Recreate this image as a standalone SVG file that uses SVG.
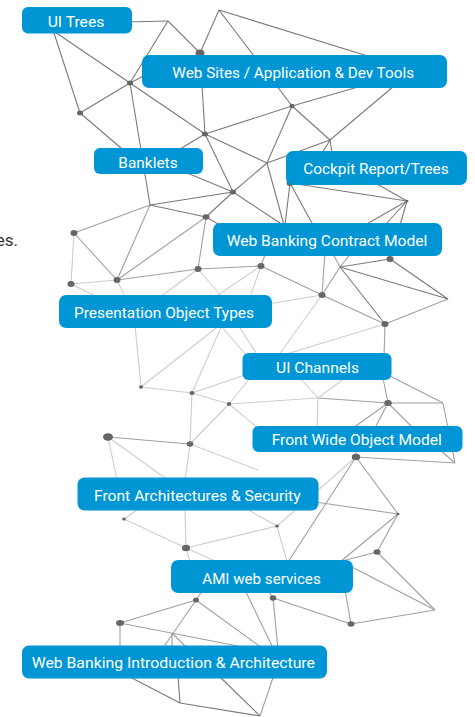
<svg xmlns="http://www.w3.org/2000/svg" width="475" height="717" viewBox="0 0 475 717">
<style>
.d{stroke:#7a7a7a;stroke-width:1.1;fill:none}
.m{stroke:#a0a0a0;stroke-width:1.1;fill:none}
.l{stroke:#cdcdcd;stroke-width:1.1;fill:none}
.dot{fill:#666}
.box{fill:#0096d6}
.lbl{fill:#fff;font-family:Roboto,"Liberation Sans",sans-serif;font-size:15px;text-anchor:middle}
</style>
<rect width="475" height="717" fill="#fff"/>
<text x="18" y="245.5" font-family="Roboto,'Liberation Sans',sans-serif" font-size="17" fill="#333" text-anchor="end">es.</text>
<g id="connectors">
<line class="d" x1="125" y1="22" x2="168" y2="21"/>
<line class="d" x1="168" y1="21" x2="200" y2="53"/>
<line class="d" x1="168" y1="21" x2="130" y2="83"/>
<line class="d" x1="219" y1="10" x2="200" y2="53"/>
<line class="d" x1="219" y1="10" x2="413" y2="70"/>
<line class="d" x1="219" y1="10" x2="292" y2="106"/>
<line class="d" x1="53" y1="30" x2="80" y2="113"/>
<line class="d" x1="52" y1="30" x2="205" y2="134"/>
<line class="d" x1="80" y1="113" x2="130" y2="83"/>
<line class="d" x1="80" y1="113" x2="135" y2="160"/>
<line class="d" x1="130" y1="83" x2="150" y2="205"/>
<line class="d" x1="130" y1="83" x2="155" y2="70"/>
<line class="d" x1="200" y1="53" x2="205" y2="134"/>
<line class="d" x1="205" y1="134" x2="292" y2="106"/>
<line class="d" x1="292" y1="106" x2="365" y2="85"/>
<line class="d" x1="205" y1="134" x2="165" y2="158"/>
<line class="d" x1="205" y1="134" x2="233" y2="192"/>
<line class="d" x1="205" y1="134" x2="267" y2="163"/>
<line class="d" x1="267" y1="163" x2="292" y2="106"/>
<line class="d" x1="267" y1="163" x2="330" y2="140"/>
<line class="d" x1="267" y1="163" x2="233" y2="192"/>
<line class="d" x1="267" y1="163" x2="284" y2="225"/>
<line class="d" x1="292" y1="106" x2="330" y2="140"/>
<line class="d" x1="413" y1="70" x2="330" y2="140"/>
<line class="d" x1="330" y1="140" x2="318" y2="160"/>
<line class="d" x1="330" y1="140" x2="333" y2="160"/>
<line class="d" x1="180" y1="170" x2="233" y2="192"/>
<line class="d" x1="233" y1="192" x2="150" y2="205"/>
<line class="d" x1="233" y1="192" x2="206" y2="217"/>
<line class="d" x1="233" y1="192" x2="283" y2="225"/>
<line class="m" x1="150" y1="205" x2="74" y2="233"/>
<line class="m" x1="150" y1="205" x2="117" y2="280"/>
<line class="d" x1="150" y1="205" x2="206" y2="217"/>
<line class="m" x1="206" y1="217" x2="198" y2="269"/>
<line class="m" x1="206" y1="217" x2="117" y2="280"/>
<line class="d" x1="206" y1="217" x2="225" y2="228"/>
<line class="m" x1="74" y1="233" x2="117" y2="280"/>
<line class="l" x1="74" y1="233" x2="71" y2="284"/>
<line class="l" x1="71" y1="284" x2="117" y2="280"/>
<line class="m" x1="117" y1="280" x2="198" y2="269"/>
<line class="m" x1="198" y1="269" x2="261" y2="266"/>
<line class="d" x1="290" y1="183" x2="407" y2="201"/>
<line class="d" x1="290" y1="183" x2="285" y2="225"/>
<line class="d" x1="290" y1="183" x2="313" y2="225"/>
<line class="d" x1="407" y1="201" x2="365" y2="225"/>
<line class="d" x1="407" y1="201" x2="385" y2="225"/>
<line class="d" x1="407" y1="201" x2="400" y2="225"/>
<line class="d" x1="407" y1="201" x2="370" y2="180"/>
<line class="m" x1="261" y1="266" x2="266" y2="252"/>
<line class="m" x1="261" y1="266" x2="322" y2="295"/>
<line class="m" x1="322" y1="295" x2="325" y2="252"/>
<line class="m" x1="340" y1="267" x2="332" y2="252"/>
<line class="m" x1="340" y1="267" x2="352" y2="252"/>
<line class="d" x1="340" y1="267" x2="390" y2="259"/>
<line class="d" x1="340" y1="267" x2="448" y2="299"/>
<line class="d" x1="390" y1="259" x2="448" y2="299"/>
<line class="m" x1="340" y1="267" x2="322" y2="295"/>
<line class="d" x1="340" y1="267" x2="385" y2="324"/>
<line class="m" x1="322" y1="295" x2="385" y2="324"/>
<line class="m" x1="448" y1="299" x2="385" y2="324"/>
<line class="m" x1="385" y1="324" x2="384" y2="358"/>
<line class="l" x1="385" y1="324" x2="280" y2="356"/>
<line class="l" x1="198" y1="269" x2="160" y2="297"/>
<line class="l" x1="198" y1="269" x2="222" y2="297"/>
<line class="l" x1="71" y1="284" x2="97" y2="297"/>
<line class="l" x1="117" y1="280" x2="125" y2="297"/>
<line class="l" x1="261" y1="266" x2="250" y2="297"/>
<line class="l" x1="261" y1="266" x2="215" y2="297"/>
<line class="l" x1="322" y1="295" x2="268" y2="304"/>
<line class="l" x1="322" y1="295" x2="278" y2="356"/>
<line class="l" x1="135" y1="325" x2="141" y2="387"/>
<line class="l" x1="141" y1="387" x2="220" y2="325"/>
<line class="l" x1="141" y1="387" x2="192" y2="393"/>
<line class="l" x1="192" y1="393" x2="222" y2="325"/>
<line class="l" x1="192" y1="393" x2="229" y2="404"/>
<line class="l" x1="192" y1="393" x2="245" y2="375"/>
<line class="l" x1="192" y1="393" x2="190" y2="444"/>
<line class="l" x1="229" y1="404" x2="250" y2="378"/>
<line class="l" x1="229" y1="404" x2="318" y2="398"/>
<line class="m" x1="318" y1="398" x2="388" y2="403"/>
<line class="l" x1="318" y1="398" x2="300" y2="378"/>
<line class="l" x1="318" y1="398" x2="345" y2="378"/>
<line class="l" x1="318" y1="398" x2="317" y2="428"/>
<line class="m" x1="388" y1="403" x2="383" y2="378"/>
<line class="m" x1="388" y1="403" x2="443" y2="403"/>
<line class="m" x1="390" y1="376" x2="443" y2="403"/>
<line class="m" x1="388" y1="403" x2="353" y2="428"/>
<line class="m" x1="388" y1="403" x2="375" y2="428"/>
<line class="m" x1="388" y1="403" x2="413" y2="428"/>
<line class="m" x1="443" y1="403" x2="455" y2="463"/>
<line class="m" x1="440" y1="450" x2="455" y2="463"/>
<line class="m" x1="356" y1="457" x2="455" y2="463"/>
<line class="m" x1="356" y1="457" x2="288" y2="562"/>
<line class="m" x1="356" y1="457" x2="398" y2="514"/>
<line class="m" x1="356" y1="457" x2="356" y2="450"/>
<line class="m" x1="315" y1="502" x2="398" y2="514"/>
<line class="m" x1="108" y1="437" x2="190" y2="444"/>
<line class="l" x1="108" y1="437" x2="117" y2="480"/>
<line class="l" x1="108" y1="437" x2="168" y2="480"/>
<line class="l" x1="190" y1="444" x2="229" y2="404"/>
<line class="l" x1="190" y1="444" x2="185" y2="480"/>
<line class="l" x1="190" y1="444" x2="258" y2="470"/>
<line class="l" x1="229" y1="404" x2="258" y2="428"/>
<line class="l" x1="220" y1="325" x2="247" y2="356"/>
<line class="l" x1="238" y1="325" x2="258" y2="356"/>
<line class="l" x1="124" y1="519" x2="140" y2="508"/>
<line class="l" x1="124" y1="519" x2="186" y2="548"/>
<line class="l" x1="186" y1="548" x2="185" y2="508"/>
<line class="l" x1="186" y1="548" x2="277" y2="526"/>
<line class="l" x1="186" y1="548" x2="190" y2="562"/>
<line class="l" x1="186" y1="548" x2="217" y2="562"/>
<line class="l" x1="277" y1="526" x2="245" y2="508"/>
<line class="l" x1="277" y1="526" x2="287" y2="562"/>
<line class="l" x1="277" y1="526" x2="356" y2="457"/>
<line class="m" x1="398" y1="514" x2="340" y2="562"/>
<line class="m" x1="398" y1="514" x2="377" y2="552"/>
<line class="m" x1="377" y1="552" x2="338" y2="562"/>
<line class="m" x1="377" y1="552" x2="435" y2="610"/>
<line class="m" x1="350" y1="566" x2="435" y2="610"/>
<line class="m" x1="435" y1="610" x2="351" y2="624"/>
<line class="m" x1="351" y1="624" x2="345" y2="590"/>
<line class="m" x1="273" y1="598" x2="351" y2="624"/>
<line class="m" x1="273" y1="598" x2="268" y2="590"/>
<line class="m" x1="273" y1="598" x2="279" y2="660"/>
<line class="m" x1="279" y1="660" x2="260" y2="716"/>
<line class="m" x1="245" y1="590" x2="273" y2="648"/>
<line class="m" x1="196" y1="600" x2="120" y2="623"/>
<line class="m" x1="196" y1="600" x2="203" y2="590"/>
<line class="m" x1="196" y1="600" x2="163" y2="648"/>
<line class="m" x1="196" y1="600" x2="262" y2="648"/>
<line class="m" x1="120" y1="623" x2="248" y2="648"/>
<line class="m" x1="120" y1="623" x2="120" y2="648"/>
<line class="m" x1="172" y1="633" x2="172" y2="648"/>
<line class="m" x1="172" y1="633" x2="187" y2="648"/>
<line class="d" x1="128" y1="676" x2="180" y2="703"/>
<line class="d" x1="180" y1="703" x2="178" y2="676"/>
<line class="d" x1="180" y1="703" x2="260" y2="716"/>
<line class="d" x1="219" y1="676" x2="260" y2="716"/>
</g>
<g id="dots" class="dot">
<ellipse cx="200" cy="53" rx="4.5" ry="3.5"/>
<ellipse cx="130" cy="83" rx="3" ry="2.5"/>
<ellipse cx="80" cy="113" rx="3" ry="2.5"/>
<ellipse cx="205" cy="134" rx="3" ry="2.5"/>
<ellipse cx="292" cy="106" rx="2.5" ry="2.2"/>
<ellipse cx="233" cy="192" rx="3" ry="2.5"/>
<ellipse cx="206" cy="217" rx="3.5" ry="2.8"/>
<ellipse cx="74" cy="233" rx="3.5" ry="3"/>
<ellipse cx="117" cy="280" rx="3.5" ry="3"/>
<ellipse cx="198" cy="269" rx="3.5" ry="3"/>
<ellipse cx="71" cy="284" rx="3.5" ry="3"/>
<ellipse cx="261" cy="266" rx="3.5" ry="3"/>
<ellipse cx="290" cy="183" rx="3.5" ry="3"/>
<ellipse cx="390" cy="259" rx="3.5" ry="3"/>
<ellipse cx="322" cy="295" rx="3.5" ry="3"/>
<ellipse cx="385" cy="324" rx="3.5" ry="3"/>
<ellipse cx="407" cy="201" rx="1.5" ry="1.3"/>
<ellipse cx="141" cy="387" rx="2" ry="1.7"/>
<ellipse cx="192" cy="393" rx="2.5" ry="2"/>
<ellipse cx="229" cy="404" rx="2.2" ry="2"/>
<ellipse cx="108" cy="437" rx="5" ry="3.8"/>
<ellipse cx="190" cy="444" rx="3.3" ry="2.8"/>
<ellipse cx="388" cy="403" rx="3.8" ry="3"/>
<ellipse cx="356" cy="457" rx="4.2" ry="3.3"/>
<ellipse cx="398" cy="514" rx="1.5" ry="1.3"/>
<ellipse cx="277" cy="526" rx="1.8" ry="1.5"/>
<ellipse cx="124" cy="519" rx="1.8" ry="1.5"/>
<ellipse cx="186" cy="548" rx="4" ry="3.3"/>
<ellipse cx="377" cy="552" rx="3.5" ry="2.8"/>
<ellipse cx="196" cy="600" rx="3" ry="2.5"/>
<ellipse cx="120" cy="623" rx="4" ry="3"/>
<ellipse cx="273" cy="598" rx="3.3" ry="2.8"/>
<ellipse cx="351" cy="624" rx="3.5" ry="2.8"/>
</g>
<g id="ui-trees"><rect class="box" x="22" y="7" width="110" height="26.5" rx="6"/><text class="lbl" x="76" y="26.5" textLength="56.6" lengthAdjust="spacingAndGlyphs">UI Trees</text></g>
<g id="web-sites"><rect class="box" x="142" y="55" width="305" height="33" rx="7"/><text class="lbl" x="293.2" y="77.5" textLength="241.7" lengthAdjust="spacingAndGlyphs">Web Sites / Application &amp; Dev Tools</text></g>
<g id="banklets"><rect class="box" x="94" y="148" width="109" height="26" rx="6"/><text class="lbl" x="148" y="167.5" textLength="59.3" lengthAdjust="spacingAndGlyphs">Banklets</text></g>
<g id="cockpit"><rect class="box" x="286" y="151" width="181" height="34" rx="7"/><text class="lbl" x="376" y="174" textLength="145.3" lengthAdjust="spacingAndGlyphs">Cockpit Report/Trees</text></g>
<g id="wbcm"><rect class="box" x="213" y="223" width="229" height="33" rx="7"/><text class="lbl" x="327" y="246" textLength="200.6" lengthAdjust="spacingAndGlyphs">Web Banking Contract Model</text></g>
<g id="pot"><rect class="box" x="59" y="295" width="213" height="33" rx="7"/><text class="lbl" x="164" y="318" textLength="180" lengthAdjust="spacingAndGlyphs">Presentation Object Types</text></g>
<g id="ui-channels"><rect class="box" x="242.5" y="353" width="149" height="27" rx="6"/><text class="lbl" x="317.5" y="373" textLength="83" lengthAdjust="spacingAndGlyphs">UI Channels</text></g>
<g id="fwom"><rect class="box" x="252.5" y="426" width="210" height="26" rx="6"/><text class="lbl" x="356.7" y="445" textLength="170" lengthAdjust="spacingAndGlyphs">Front Wide Object Model</text></g>
<g id="fas"><rect class="box" x="77.5" y="477.5" width="241" height="33" rx="7"/><text class="lbl" x="197.3" y="500.5" textLength="206.7" lengthAdjust="spacingAndGlyphs">Front Architectures &amp; Security</text></g>
<g id="ami"><rect class="box" x="171" y="560" width="182" height="33" rx="7"/><text class="lbl" x="261.5" y="583.5" textLength="118.4" lengthAdjust="spacingAndGlyphs">AMI web services</text></g>
<g id="wbia"><rect class="box" x="22" y="645.5" width="305" height="33" rx="7"/><text class="lbl" x="173.3" y="668" textLength="283.3" lengthAdjust="spacingAndGlyphs">Web Banking Introduction &amp; Architecture</text></g>
</svg>
